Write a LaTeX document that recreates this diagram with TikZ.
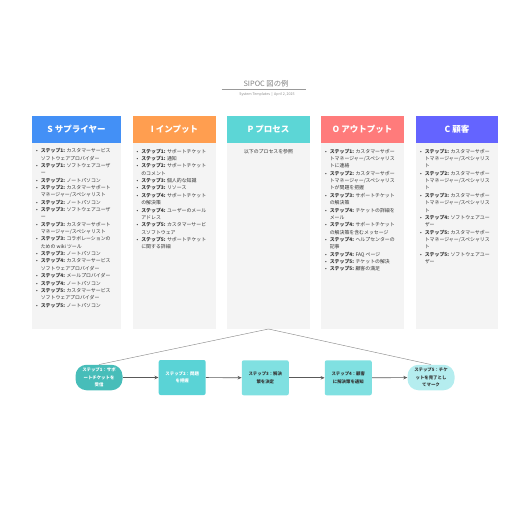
\documentclass[tikz,border=0pt]{standalone}
\usepackage{fontspec}
\setmainfont{Noto Sans CJK JP}
\usetikzlibrary{arrows.meta}
\definecolor{sblue}{HTML}{4390F6}
\definecolor{iorange}{HTML}{FF9E50}
\definecolor{pteal}{HTML}{5CD6D6}
\definecolor{osalmon}{HTML}{FF7B7B}
\definecolor{cviolet}{HTML}{6464FF}
\definecolor{bodygray}{HTML}{F4F4F4}
\definecolor{txt}{HTML}{333333}
\definecolor{fa}{HTML}{47BDB9}
\definecolor{fb}{HTML}{5AD3D6}
\definecolor{fc}{HTML}{80E0E1}
\definecolor{fd}{HTML}{80E0E1}
\definecolor{fe}{HTML}{B5EDEF}
\newcommand{\bl}{\makebox[4.6pt][l]{•}}
\newcommand{\ind}{\hspace*{4.6pt}}
\newcommand{\st}[1]{\textbf{ステップ#1:}}
\tikzset{
  hdr/.style={minimum height=27pt, inner sep=0pt, text=white, font=\fontsize{8.5}{10}\selectfont\bfseries},
  colbody/.style={fill=bodygray, inner sep=0pt, minimum height=186pt},
  itemtext/.style={anchor=north west, inner sep=0pt, align=left, text=txt, font=\fontsize{4.9}{7.35}\selectfont},
  flow/.style={minimum width=47pt, minimum height=35pt, inner sep=0pt, rounded corners=2pt, align=center, font=\fontsize{4.4}{7.3}\selectfont\bfseries},
  pill/.style={minimum width=47pt, minimum height=25.5pt, inner sep=0pt, rounded corners=11pt, align=center, font=\fontsize{4.4}{7.3}\selectfont\bfseries},
  arr/.style={draw=black!65, line width=0.7pt, -{Stealth[length=4pt,width=3.5pt,fill=black!45]}},
  thin/.style={draw=black!45, line width=0.45pt}
}
\begin{document}
\begin{tikzpicture}[x=1pt,y=-1pt]
\useasboundingbox (0,0) rectangle (516,516);
% title
\node[inner sep=0pt, text=black!50, font=\fontsize{7.3}{8}\selectfont] (title) at (266,84) {SIPOC 図の例};
\coordinate (tl) at (221.5,89.7);
\coordinate (tr) at (306,89.7);
\draw[draw=black!40, line width=0.4pt] (tl) -- (tr);
\node[inner sep=0pt, text=black!45, font=\fontsize{3.6}{4}\selectfont] (subtitle) at (267,94) {System Templates \ | \ April 2, 2025};
% headers
\node[hdr, fill=sblue, minimum width=89pt] (hS) at (76.5,129.5) {S サプライヤー};
\node[hdr, fill=iorange, minimum width=83pt] (hI) at (174.5,129.5) {I インプット};
\node[hdr, fill=pteal, minimum width=83pt] (hP) at (268.5,129.5) {P プロセス};
\node[hdr, fill=osalmon, minimum width=83pt] (hO) at (362.5,129.5) {O アウトプット};
\node[hdr, fill=cviolet, minimum width=82pt] (hC) at (457,129.5) {C 顧客};
% bodies
\node[colbody, minimum width=89pt] (bS) at (76.5,236) {};
\node[colbody, minimum width=83pt] (bI) at (174.5,236) {};
\node[colbody, minimum width=83pt] (bP) at (268.5,236) {};
\node[colbody, minimum width=83pt] (bO) at (362.5,236) {};
\node[colbody, minimum width=82pt] (bC) at (457,236) {};
% texts
\node[itemtext] (tS) at (36,148.3) {%
\bl\st1 カスタマーサービス\\\ind ソフトウェアプロバイダー\\
\bl\st1 ソフトウェアユーザ\\\ind ー\\
\bl\st2 ノートパソコン\\
\bl\st2 カスタマーサポート\\\ind マネージャー/スペシャリスト\\
\bl\st2 ノートパソコン\\
\bl\st3 ソフトウェアユーザ\\\ind ー\\
\bl\st3 カスタマーサポート\\\ind マネージャー/スペシャリスト\\
\bl\st3 コラボレーションの\\\ind ための wiki ツール\\
\bl\st3 ノートパソコン\\
\bl\st4 カスタマーサービス\\\ind ソフトウェアプロバイダー\\
\bl\st4 メールプロバイダー\\
\bl\st4 ノートパソコン\\
\bl\st5 カスタマーサービス\\\ind ソフトウェアプロバイダー\\
\bl\st5 ノートパソコン};
\node[itemtext] (tI) at (136.5,148.8) {%
\bl\st1 サポートチケット\\
\bl\st1 通知\\
\bl\st2 サポートチケット\\\ind のコメント\\
\bl\st3 個人的な知識\\
\bl\st3 リソース\\
\bl\st4 サポートチケット\\\ind の解決策\\
\bl\st4 ユーザーのメール\\\ind アドレス\\
\bl\st5 カスタマーサービ\\\ind スソフトウェア\\
\bl\st5 サポートチケット\\\ind に関する詳細};
\node[inner sep=0pt, text=txt, font=\fontsize{4.9}{7.35}\selectfont] (tP) at (268.5,151.7) {以下のプロセスを参照};
\node[itemtext] (tO) at (325,148.8) {%
\bl\st1 カスタマーサポー\\\ind トマネージャー/スペシャリス\\\ind トに連絡\\
\bl\st2 カスタマーサポー\\\ind トマネージャー/スペシャリス\\\ind トが問題を把握\\
\bl\st3 サポートチケット\\\ind の解決策\\
\bl\st4 チケットの詳細を\\\ind メール\\
\bl\st4 サポートチケット\\\ind の解決策を含むメッセージ\\
\bl\st4 ヘルプセンターの\\\ind 記事\\
\bl\st4 FAQ ページ\\
\bl\st5 チケットの解決\\
\bl\st5 顧客の満足};
\node[itemtext] (tC) at (420,148.8) {%
\bl\st1 カスタマーサポー\\\ind トマネージャー/スペシャリス\\\ind ト\\
\bl\st2 カスタマーサポー\\\ind トマネージャー/スペシャリス\\\ind ト\\
\bl\st3 カスタマーサポー\\\ind トマネージャー/スペシャリス\\\ind ト\\
\bl\st4 ソフトウェアユー\\\ind ザー\\
\bl\st5 カスタマーサポー\\\ind トマネージャー/スペシャリス\\\ind ト\\
\bl\st5 ソフトウェアユー\\\ind ザー};
% flow
\node[pill, fill=fa, text=white] (f1) at (99,377.5) {ステップ1：サポ\\ートチケットを\\受信};
\node[flow, fill=fb, text=white] (f2) at (182.2,377.5) {ステップ2：問題\\を把握};
\node[flow, fill=fc, text=txt] (f3) at (265.3,377.8) {ステップ3：解決\\策を決定};
\node[flow, fill=fd, text=txt] (f4) at (348.3,377.8) {ステップ4：顧客\\に解決策を通知};
\node[pill, fill=fe, text=txt] (f5) at (431,377.5) {ステップ5：チケ\\ットを完了とし\\てマーク};
\coordinate (apex) at (268.5,329);
\draw[thin] (apex) -- (f1.north);
\draw[thin] (apex) -- (f5.north);
\draw[arr] (f1) -- (f2);
\draw[arr] (f2) -- (f3);
\draw[arr] (f3) -- (f4);
\draw[arr] (f4) -- (f5);
\end{tikzpicture}
\end{document}
